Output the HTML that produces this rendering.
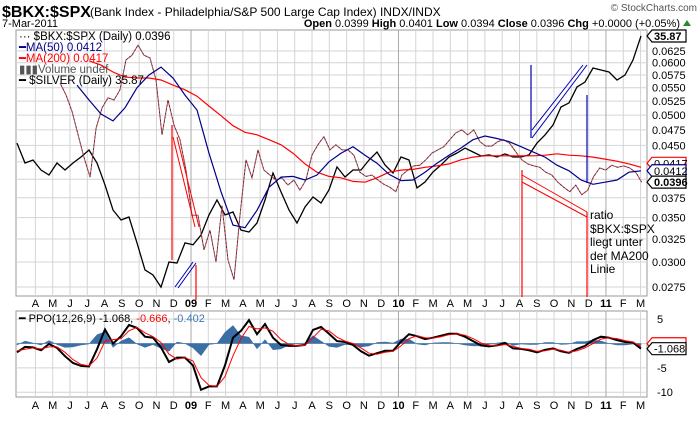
<!DOCTYPE html>
<html><head><meta charset="utf-8"><style>
html,body{margin:0;padding:0;background:#fff;}
svg{display:block;font-family:"Liberation Sans",sans-serif;}
</style></head><body>
<svg id="c" width="700" height="421" viewBox="0 0 700 421">
<g>
<text x="2" y="17" font-size="16" font-weight="bold">$BKX:$SPX</text>
<text x="90" y="16" font-size="12">(Bank Index - Philadelphia/S&amp;P 500 Large Cap Index) INDX/INDX</text>
<text x="697" y="11" font-size="10" text-anchor="end" fill="#555">© StockCharts.com</text>
<text x="2" y="27" font-size="11">7-Mar-2011</text>
<text x="680" y="27" font-size="11" text-anchor="end"><tspan font-weight="bold">Open</tspan> 0.0399 <tspan font-weight="bold">High</tspan> 0.0401 <tspan font-weight="bold">Low</tspan> 0.0394 <tspan font-weight="bold">Close</tspan> 0.0396 <tspan font-weight="bold">Chg</tspan> +0.0000 (+0.05%)</text>
<polygon points="683,26 691,26 687,20" fill="#2a8a2a"/>
</g>
<defs>
<clipPath id="mainClip"><rect x="16" y="30" width="631" height="266"/></clipPath>
<clipPath id="ppoClip"><rect x="16" y="311" width="631" height="86"/></clipPath>
</defs>
<rect x="16" y="30" width="631" height="266" fill="#fff" stroke="#999"/>
<rect x="16" y="311" width="631" height="86" fill="#fff" stroke="#999"/>
<g id="grid"></g>
<g id="series"></g>
<g id="annot">
<line x1="172" y1="125" x2="172" y2="260" stroke="red" stroke-width="1.2"/>
<line x1="173" y1="137" x2="195" y2="227" stroke="red" stroke-width="1"/>
<line x1="177" y1="137" x2="199" y2="227" stroke="red" stroke-width="1"/>
<line x1="175" y1="287" x2="193" y2="262" stroke="#0000b0" stroke-width="1"/>
<line x1="178" y1="288" x2="196" y2="263" stroke="#0000b0" stroke-width="1"/>
<line x1="196" y1="265" x2="196" y2="300" stroke="red" stroke-width="1.2"/>
<line x1="531" y1="65" x2="531" y2="138" stroke="#0000b0" stroke-width="1.2"/>
<line x1="532" y1="130" x2="583" y2="65" stroke="#0000b0" stroke-width="1"/>
<line x1="532" y1="138" x2="587" y2="65" stroke="#0000b0" stroke-width="1"/>
<line x1="587" y1="95" x2="587" y2="183" stroke="#0000b0" stroke-width="1.2"/>
<line x1="522" y1="170" x2="522" y2="297" stroke="red" stroke-width="1.2"/>
<line x1="522" y1="175" x2="587" y2="212" stroke="red" stroke-width="1"/>
<line x1="522" y1="182" x2="587" y2="217" stroke="red" stroke-width="1"/>
<line x1="587" y1="212" x2="587" y2="297" stroke="red" stroke-width="1.2"/>
<text font-size="12"><tspan x="590" y="219">ratio</tspan><tspan x="590" y="233">$BKX:$SPX</tspan><tspan x="590" y="246">liegt unter</tspan><tspan x="590" y="260">der MA200</tspan><tspan x="590" y="273">Linie</tspan></text>
</g>
<g>
<text x="19" y="40" font-size="11.5">··· $BKX:$SPX (Daily) 0.0396</text>
<text x="19" y="51" font-size="11.5" fill="#00008b">━MA(50) 0.0412</text>
<text x="19" y="62" font-size="11.5" fill="red">━MA(200) 0.0417</text>
<text x="19" y="73" font-size="11.5" fill="#555">▮▮▮Volume undef</text>
<text x="19" y="84" font-size="11.5">━ $SILVER (Daily) 35.87</text>
</g>
<g>
<text x="19" y="322" font-size="11">━ PPO(12,26,9) -1.068, <tspan fill="red">-0.666</tspan>, <tspan fill="#3a78b0">-0.402</tspan></text>
</g>
<g id="tags"></g>
</svg>
<script>
// ---- data (months since Jan 2009) ----
const ratioStart = -7.572;
const ratioStep = 0.3468;
const ratioValues = [.0559,.0536,.0506,.0467,.0431,.0403,.0478,.0513,.0531,.0527,.0546,.0606,.0616,.0638,.0616,.0610,.0565,.0467,.0527,.0483,.0459,.0413,.0353,.0353,.0313,.0335,.0300,.0365,.0302,.0282,.0353,.0428,.0402,.0443,.0413,.0406,.0399,.0402,.0392,.0399,.0385,.0399,.0435,.0451,.0464,.0443,.0451,.0443,.0443,.0435,.0410,.0404,.0406,.0399,.0393,.0389,.0383,.0406,.0413,.0419,.0420,.0428,.0438,.0443,.0448,.0459,.0470,.0475,.0467,.0475,.0456,.0449,.0449,.0456,.0459,.0453,.0440,.0428,.0422,.0419,.0417,.0410,.0406,.0396,.0389,.0383,.0392,.0379,.0385,.0404,.0416,.0413,.0420,.0417,.0419,.0416,.0410,.0396];
const ma50Start = -6.593;
const maStep = 0.694;
const ma50Values = [.0555,.0527,.0502,.0490,.0513,.0550,.0575,.0591,.0569,.0536,.0509,.0438,.0383,.0341,.0338,.0359,.0389,.0403,.0404,.0399,.0406,.0425,.0438,.0448,.0435,.0423,.0407,.0398,.0399,.0410,.0423,.0435,.0446,.0459,.0465,.0461,.0456,.0448,.0440,.0432,.0420,.0412,.0399,.0393,.0396,.0399,.0410,.0412];
const ma200Start = -5.899;
const ma200Values = [.0604,.0595,.0581,.0571,.0569,.0569,.0565,.0555,.0546,.0534,.0516,.0499,.0482,.0471,.0467,.0459,.0451,.0438,.0422,.0410,.0404,.0402,.0397,.0396,.0402,.0410,.0413,.0414,.0417,.0419,.0422,.0428,.0432,.0434,.0434,.0434,.0434,.0434,.0435,.0437,.0435,.0434,.0432,.0429,.0426,.0422,.0417];
const dailyStart = -10.064;
const dailyStep = 0.4627;
const silverValues = [19.72,17.64,17.94,16.97,16.50,17.64,16.97,17.64,18.25,18.97,17.64,15.61,13.57,12.83,13.05,11.29,9.71,9.44,8.82,10.15,10.09,11.29,11.17,11.80,13.20,14.35,13.20,13.42,12.13,12.00,12.62,14.35,16.69,15.01,13.57,12.62,13.80,14.59,14.11,15.18,17.26,16.32,16.97,16.97,17.94,18.76,17.45,16.69,18.25,17.94,15.35,15.87,16.78,17.45,18.25,18.66,19.18,18.76,18.35,18.46,18.25,18.56,18.25,18.25,18.46,19.72,20.64,21.82,24.13,24.68,26.97,27.74,29.99,29.66,29.33,28.05,28.85,31.37,35.87];
const ppoValues = [-1.8,-0.7,-0.8,-1.4,-0.1,-0.9,-2.6,-4.0,-4.6,-4.7,-1.2,2.9,0.0,1.5,3.8,3.2,1.4,1.2,-0.8,-3.8,-2.9,-2.9,-4.5,-9.5,-8.8,-8.8,-4.5,1.2,2.6,4.8,1.9,4.0,1.2,-0.3,-0.5,-0.5,-0.3,2.8,3.4,2.0,0.5,0.3,-0.3,-1.6,-2.5,-2.0,-1.5,-1.5,0.4,1.9,1.5,0.9,1.2,1.6,2.0,2.0,1.4,0.5,-0.4,-0.6,-0.4,0.1,-1.0,-1.1,-1.4,-1.8,-1.3,-1.0,-1.6,-1.9,-1.1,-0.5,0.7,1.4,1.2,0.7,0.3,0.2,-1.068];
const signalValues = [-1.5,-1.2,-0.9,-1.1,-0.7,-0.7,-1.8,-3.3,-4.3,-4.6,-3.0,0.5,0.8,1.0,2.6,3.3,2.2,1.4,0.2,-2.2,-3.2,-2.9,-3.6,-7.0,-8.6,-8.8,-6.8,-2.5,1.0,3.5,3.0,3.2,2.5,0.8,-0.2,-0.5,-0.4,1.2,2.9,2.6,1.3,0.5,0.0,-0.9,-2.0,-2.2,-1.8,-1.6,-0.5,1.0,1.6,1.2,1.1,1.4,1.8,2.0,1.7,1.0,0.1,-0.4,-0.5,-0.2,-0.6,-1.0,-1.2,-1.6,-1.5,-1.2,-1.4,-1.8,-1.5,-0.9,0.0,0.9,1.2,1.0,0.6,0.3,-0.666];
const priceTicks = [0.0275,0.0300,0.0325,0.0350,0.0375,0.0400,0.0425,0.0450,0.0475,0.0500,0.0525,0.0550,0.0575,0.0600,0.0625];
const priceTickLabels = ["0.0275","0.0300","0.0325","0.0350","0.0375","0.0400","0.0425","0.0450","0.0475","0.0500","0.0525","0.0550","0.0575","0.0600","0.0625"];
const ppoTicks = [5,0,-5,-10];
const ppoTickLabels = ["5","","-5","-10"];
const monthIdx = [-9,-8,-7,-6,-5,-4,-3,-2,-1,0,1,2,3,4,5,6,7,8,9,10,11,12,13,14,15,16,17,18,19,20,21,22,23,24,25,26];
const monthLabels = ["A","M","J","J","A","S","O","N","D","09","F","M","A","M","J","J","A","S","O","N","D","10","F","M","A","M","J","J","A","S","O","N","D","11","F","M"];

// ---- axes ----
const NS = "http://www.w3.org/2000/svg";
function xOf(t){ return 191 + 17.29*t; }
function yRatio(v){ return 51 + 287.4*Math.log(0.0625/v); }
function ySilver(v){ return 36 + 179*Math.log(35.87/v); }
function yPPO(v){ return 343.5 - 4.87*v; }
function mk(tag, attrs, parent){
  const e = document.createElementNS(NS, tag);
  for (const k in attrs) e.setAttribute(k, attrs[k]);
  parent.appendChild(e); return e;
}
function pts(vals, start, step, yf){
  return vals.map((v,i)=> xOf(start+i*step).toFixed(1)+","+yf(v).toFixed(1)).join(" ");
}
const grid = document.getElementById('grid');
const ser = document.getElementById('series');
const tags = document.getElementById('tags');

priceTicks.forEach((v,i)=>{
  const y = yRatio(v);
  const l = mk('line',{x1:16,x2:647,y1:y,y2:y,stroke:'#d4d4d4','stroke-width':1},grid);
  
  
  const t = mk('text',{x:652,y:y+4,'font-size':11},grid);
  t.textContent = priceTickLabels[i];
  
  
});
ppoTicks.forEach((v,i)=>{
  const y = yPPO(v);
  const l = mk('line',{x1:16,x2:647,y1:y,y2:y,stroke:'#d4d4d4','stroke-width':1},grid);
  
  
  const t = mk('text',{x:657,y:y+4,'font-size':11},grid);
  t.textContent = ppoTickLabels[i];
  
  
});
monthIdx.forEach((m,i)=>{
  const x = xOf(m);
  const yr = monthLabels[i].length===2;
  [[30,296],[311,397]].forEach(r=>{
    const l = mk('line',{x1:x,x2:x,y1:r[0],y2:r[1],stroke:yr?'#aaa':'#d4d4d4','stroke-width':1},grid);
    
    
  });
  [307,409].forEach(yy=>{
    const t = mk('text',{x:x,y:yy,'font-size':11,'text-anchor':'middle','font-weight':yr?'bold':'normal'},grid);
    t.textContent = monthLabels[i];
    
    
  });
});

const mg = mk('g',{'clip-path':'url(#mainClip)'},ser);
const s1 = mk('polyline',{points:pts(silverValues,dailyStart,dailyStep,ySilver),fill:'none',stroke:'#000','stroke-width':1.3},mg);


const r1 = mk('polyline',{points:pts(ratioValues,ratioStart,ratioStep,yRatio),fill:'none',stroke:'#e0304a','stroke-width':1,'stroke-dasharray':'2 2'},mg);


const r2 = mk('polyline',{points:pts(ratioValues,ratioStart,ratioStep,yRatio),fill:'none',stroke:'#333','stroke-width':1,'stroke-dasharray':'2 2','stroke-dashoffset':2},mg);


const m2 = mk('polyline',{points:pts(ma200Values,ma200Start,maStep,yRatio),fill:'none',stroke:'red','stroke-width':1.2},mg);


const m1 = mk('polyline',{points:pts(ma50Values,ma50Start,maStep,yRatio),fill:'none',stroke:'#00008b','stroke-width':1.2},mg);



const pg = mk('g',{'clip-path':'url(#ppoClip)'},ser);
let hp = xOf(dailyStart).toFixed(1)+","+yPPO(0);
ppoValues.forEach((v,i)=>{ hp += " "+xOf(dailyStart+i*dailyStep).toFixed(1)+","+yPPO(v-signalValues[i]).toFixed(1); });
hp += " "+xOf(dailyStart+(ppoValues.length-1)*dailyStep).toFixed(1)+","+yPPO(0);
const h = mk('polygon',{points:hp,fill:'#3a6ea5',stroke:'#3a6ea5','stroke-width':0.5},pg);


const p1 = mk('polyline',{points:pts(ppoValues,dailyStart,dailyStep,yPPO),fill:'none',stroke:'#000','stroke-width':2},pg);


const p2 = mk('polyline',{points:pts(signalValues,dailyStart,dailyStep,yPPO),fill:'none',stroke:'red','stroke-width':1},pg);



function tag(y, text, color, bold, name){
  const g = mk('g',{},tags);
  
  
  mk('polygon',{points:`647,${y} 652,${y-6} 686,${y-6} 686,${y+6} 652,${y+6}`,fill:'#fff',stroke:color,'stroke-width':1.2},g);
  const t = mk('text',{x:654,y:y+4,'font-size':11,'font-weight':bold?'bold':'normal'},g);
  t.textContent = text;
}
tag(yRatio(ma200Values[ma200Values.length-1])-4,"0.0417","red",false,"ma200-value-tag");
tag(yRatio(ma50Values[ma50Values.length-1]),"0.0412","#00008b",false,"ma50-value-tag");
tag(yRatio(ratioValues[ratioValues.length-1]),"0.0396","#000",true,"ratio-value-tag");
tag(ySilver(silverValues[silverValues.length-1]),"35.87","#000",true,"silver-value-tag");
tag(yPPO(signalValues[signalValues.length-1])-3,"","red",false,"signal-value-tag");
tag(yPPO(ppoValues[ppoValues.length-1]),"-1.068","#000",false,"ppo-value-tag");
</script>
</body></html>
